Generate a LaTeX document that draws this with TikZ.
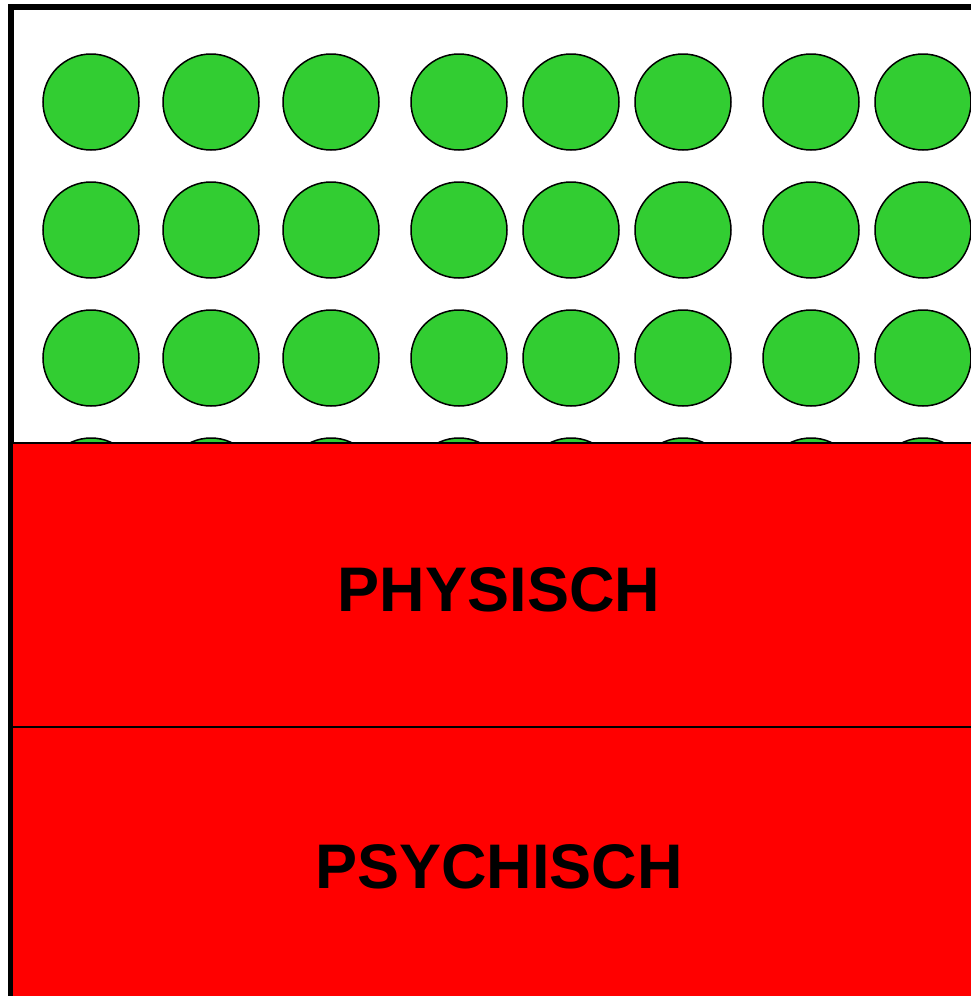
\documentclass[tikz,border=0pt]{standalone}
\usepackage{fontspec}
\setmainfont{Liberation Sans}
\definecolor{ballgreen}{HTML}{32CD32}
\definecolor{boxred}{HTML}{FF0000}
\begin{document}
\begin{tikzpicture}[x=1pt,y=-1pt,
  ball/.style={circle,draw=black,line width=1.5pt,fill=ballgreen,minimum size=96pt,inner sep=0pt},
  panel/.style={draw=black,line width=2pt,fill=boxred},
  paneltext/.style={font=\fontsize{63}{70}\selectfont\bfseries,anchor=base,inner sep=0pt}]
\useasboundingbox (0,0) rectangle (971,996);
\fill[white] (0,0) rectangle (971,996);
\foreach \r/\yy in {1/102,2/230,3/358,4/486}{
  \foreach \c/\xx in {1/91,2/211,3/331,4/459,5/571,6/683,7/811,8/923}{
    \node[ball] (b\r\c) at (\xx,\yy) {};
  }
}
\draw[line width=6pt] (11,1000) -- (11,7) -- (975,7);
\draw[panel] (12,443) rectangle (975,727);
\draw[panel] (12,727) rectangle (975,1000);
\node[paneltext] (phys) at (499,611) {PHYSISCH};
\node[paneltext] (psych) at (499,888) {PSYCHISCH};
\end{tikzpicture}
\end{document}
